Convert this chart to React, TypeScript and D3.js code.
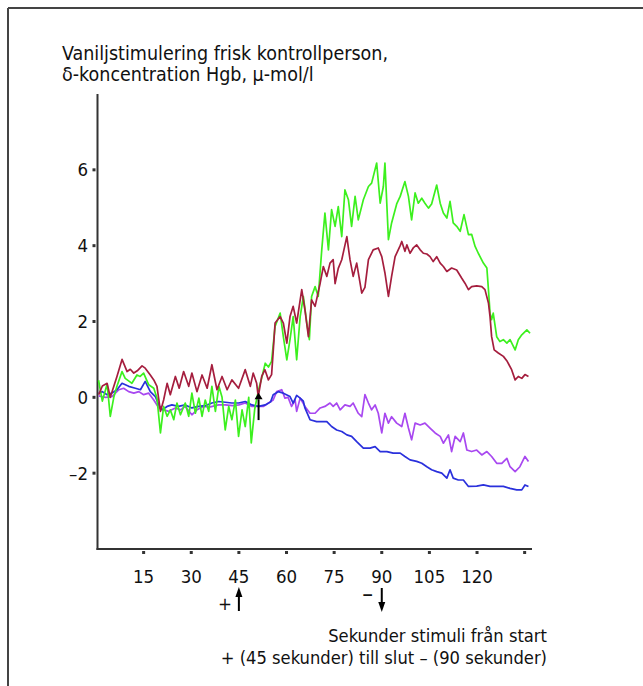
import React from 'react';
import * as d3 from 'd3';

const titleLines = ['Vaniljstimulering frisk kontrollperson,', 'δ-koncentration Hgb, μ-mol/l'];
const footerLines = ['Sekunder stimuli från start', '+ (45 sekunder) till slut – (90 sekunder)'];
const xTickValues = [15, 30, 45, 60, 75, 90, 105, 120, 135];
const xTickLabels = ['15', '30', '45', '60', '75', '90', '105', '120', ''];
const yTickValues = [-2, 0, 2, 4, 6];
const yTickLabels = ['–2', '0', '2', '4', '6'];
const stimStart = 45;
const stimEnd = 90;
const markerTime = 51.2;

const greenSeries: [number, number][] = [
  [0.8, 0.45], [2.0, -0.1], [3.5, 0.35], [4.5, -0.5], [5.6, 0.0], [6.6, 0.29], [8.2, 0.68], [9.2, 0.5],
  [10.8, 0.4], [11.3, 0.37], [12.9, 0.59], [13.9, 0.55], [15.0, 0.64], [16.6, 0.33], [18.2, 0.24],
  [19.2, -0.02], [20.3, -0.94], [21.3, -0.24], [22.4, -0.5], [23.4, -0.33], [24.5, -0.59], [25.5, -0.15],
  [26.6, -0.46], [28.1, -0.15], [29.2, -0.5], [30.2, 0.11], [31.3, -0.42], [32.4, -0.02], [33.4, -0.5],
  [34.4, -0.07], [35.5, -0.37], [36.5, 0.29], [37.6, -0.37], [38.7, 0.29], [39.7, 0.0], [40.7, -0.86],
  [41.8, -0.24], [42.8, -0.59], [43.9, -0.07], [44.9, -1.03], [46.0, -0.33], [47.0, -0.77], [48.1, 0.0],
  [48.9, -1.2], [50.0, -0.3], [51.2, 0.2], [52.3, 0.55], [53.3, 0.9], [54.3, 0.8], [55.3, 0.95],
  [56.4, 1.87], [58.0, 2.22], [59.0, 1.6], [60.1, 0.99], [61.1, 1.52], [62.1, 2.13], [63.2, 0.99],
  [64.3, 2.13], [65.3, 2.66], [66.4, 1.96], [67.2, 1.52], [67.9, 2.66], [69.0, 2.92], [70.0, 2.66],
  [71.1, 3.89], [72.1, 4.86], [73.2, 3.89], [74.2, 4.95], [75.3, 4.51], [76.3, 5.03], [77.4, 4.24],
  [78.4, 5.47], [79.5, 5.21], [80.5, 4.51], [81.6, 5.3], [82.6, 4.68], [84.2, 5.21], [85.8, 5.56],
  [86.8, 5.65], [88.4, 6.18], [89.5, 5.12], [90.5, 5.56], [91.0, 6.18], [92.1, 4.16], [93.1, 4.6],
  [94.7, 5.1], [95.8, 5.3], [97.3, 5.69], [98.4, 5.3], [99.4, 4.68], [100.5, 5.39], [101.5, 5.12],
  [102.6, 5.25], [103.6, 5.12], [104.7, 4.99], [105.7, 5.1], [107.3, 5.6], [108.4, 5.12], [109.4, 4.86],
  [110.5, 4.73], [111.5, 5.17], [112.5, 4.6], [113.6, 4.51], [114.7, 4.38], [115.9, 4.82], [117.3, 4.29],
  [118.3, 4.3], [119.4, 3.98], [120.4, 3.8], [122.0, 3.54], [123.1, 3.41], [123.6, 2.84], [124.1, 2.22],
  [124.6, 2.05], [125.1, 2.22], [126.2, 1.6], [127.2, 1.47], [128.3, 1.52], [129.4, 1.43], [130.4, 1.52],
  [132.0, 1.25], [133.0, 1.52], [134.1, 1.65], [135.7, 1.78], [136.7, 1.69],
];

const redSeries: [number, number][] = [
  [0.85, 0.07], [2.0, 0.3], [3.5, 0.37], [4.5, 0.0], [6.6, 0.55], [8.2, 1.0], [9.8, 0.68], [10.8, 0.74],
  [11.9, 0.64], [13.0, 0.7], [14.5, 0.83], [15.5, 0.77], [17.1, 0.59], [18.2, 0.46], [19.2, 0.29],
  [20.3, -0.37], [21.3, -0.07], [22.4, 0.37], [23.4, 0.07], [25.0, 0.55], [26.2, 0.24], [27.6, 0.68],
  [29.2, 0.29], [30.2, 0.64], [31.8, 0.15], [33.4, 0.59], [35.0, 0.24], [36.5, 0.86], [38.1, 0.2],
  [39.7, 0.55], [41.3, 0.2], [42.8, 0.46], [44.9, 0.24], [47.0, 0.73], [48.6, 0.29], [49.5, 0.64],
  [50.6, 0.37], [51.1, 0.02], [52.2, 0.55], [53.2, 0.73], [54.3, 0.46], [55.3, 0.6], [55.8, 1.2],
  [56.4, 1.96], [58.0, 2.13], [59.0, 1.96], [60.1, 1.43], [61.1, 2.13], [62.1, 2.4], [63.2, 1.96],
  [64.8, 2.84], [65.8, 2.31], [66.9, 1.6], [67.9, 2.57], [69.0, 2.4], [70.6, 3.01], [71.6, 3.45],
  [72.7, 3.19], [73.7, 3.54], [74.7, 3.63], [75.3, 3.0], [76.3, 3.4], [77.4, 3.63], [79.0, 4.24],
  [80.0, 3.63], [81.0, 3.19], [82.1, 3.54], [83.7, 2.75], [84.7, 2.9], [85.8, 3.63], [87.3, 3.89],
  [88.9, 3.94], [90.0, 3.71], [91.0, 3.28], [92.1, 2.66], [93.1, 3.19], [94.2, 3.71], [95.8, 4.0],
  [96.3, 4.11], [97.3, 3.85], [97.9, 4.02], [98.9, 3.8], [100.0, 3.95], [101.0, 4.02], [102.1, 3.89],
  [103.1, 3.8], [104.2, 3.78], [105.2, 3.71], [106.2, 3.58], [107.3, 3.71], [108.4, 3.54], [109.4, 3.45],
  [110.5, 3.32], [112.0, 3.41], [113.6, 3.36], [115.2, 3.14], [116.2, 3.01], [117.3, 2.84], [118.3, 2.92],
  [119.9, 2.94], [121.5, 2.92], [122.5, 2.84], [123.6, 2.49], [124.1, 2.13], [124.6, 1.6], [125.4, 1.25],
  [126.7, 1.17], [128.3, 1.08], [129.5, 0.95], [130.9, 0.73], [132.0, 0.46], [133.0, 0.55], [134.1, 0.5],
  [135.1, 0.6], [136.2, 0.55],
];

const blueSeries: [number, number][] = [
  [0.85, 0.11], [2.0, 0.15], [3.5, 0.07], [5.0, 0.11], [6.6, 0.2], [8.2, 0.37], [10.3, 0.29], [12.4, 0.24],
  [14.0, 0.2], [15.5, 0.42], [17.1, 0.15], [18.7, 0.02], [19.8, -0.2], [20.8, -0.33], [22.4, -0.24],
  [23.9, -0.2], [26.0, -0.24], [28.1, -0.2], [30.2, -0.28], [32.3, -0.24], [34.4, -0.22], [36.5, -0.15],
  [38.6, -0.11], [40.7, -0.13], [42.8, -0.15], [44.9, -0.15], [47.0, -0.11], [49.1, -0.2], [51.2, -0.24],
  [53.3, -0.2], [55.0, -0.12], [55.8, 0.07], [57.4, 0.15], [59.0, 0.11], [61.1, 0.02], [62.1, -0.15],
  [63.2, 0.05], [64.3, -0.02], [65.3, -0.1], [65.8, -0.28], [67.4, -0.59], [69.5, -0.64], [72.7, -0.64],
  [74.2, -0.77], [75.8, -0.86], [77.4, -0.9], [79.0, -0.99], [80.5, -1.03], [82.1, -1.17], [84.2, -1.34],
  [86.3, -1.34], [87.9, -1.3], [89.5, -1.43], [91.6, -1.43], [93.6, -1.47], [95.8, -1.47], [97.3, -1.56],
  [98.9, -1.65], [101.0, -1.69], [102.6, -1.74], [104.2, -1.83], [105.7, -1.91], [107.3, -1.96],
  [108.9, -2.0], [110.5, -2.13], [111.5, -1.91], [112.5, -2.13], [114.1, -2.18], [115.7, -2.18],
  [117.3, -2.35], [119.9, -2.34], [122.0, -2.31], [124.1, -2.35], [126.2, -2.35], [128.3, -2.35],
  [130.4, -2.4], [132.5, -2.44], [134.1, -2.44], [135.1, -2.31], [136.2, -2.35],
];

const purpleSeries: [number, number][] = [
  [0.85, 0.04], [3.0, 0.0], [5.0, 0.02], [7.2, 0.2], [8.7, 0.24], [10.3, 0.15], [11.9, 0.11], [13.5, 0.15],
  [15.0, 0.07], [16.6, 0.11], [18.2, -0.07], [19.8, -0.28], [21.3, -0.33], [22.9, -0.37], [25.0, -0.28],
  [26.6, -0.33], [28.1, -0.24], [30.2, -0.46], [31.8, -0.33], [33.9, -0.24], [36.0, -0.25], [38.6, -0.2],
  [40.7, -0.2], [43.0, -0.22], [45.0, -0.2], [47.0, -0.15], [49.1, -0.24], [50.6, -0.24], [52.7, -0.24],
  [54.3, -0.15], [55.8, -0.07], [56.9, 0.15], [58.5, 0.2], [59.5, -0.02], [60.5, 0.0], [61.6, -0.24],
  [62.7, -0.07], [63.2, -0.37], [64.3, -0.02], [65.8, -0.24], [67.4, -0.42], [69.0, -0.42], [70.6, -0.28],
  [72.1, -0.24], [73.7, -0.15], [74.7, -0.24], [75.8, -0.15], [76.9, -0.33], [78.4, -0.2], [80.0, -0.24],
  [81.0, -0.15], [82.6, -0.42], [83.7, -0.51], [84.7, 0.07], [85.8, -0.15], [86.8, -0.33], [87.9, -0.2],
  [88.9, -0.42], [90.0, -0.94], [91.0, -0.42], [92.1, -0.68], [93.1, -0.51], [94.7, -0.68], [96.3, -0.77],
  [97.3, -0.42], [98.4, -0.81], [99.4, -1.12], [100.5, -0.68], [102.1, -0.73], [103.6, -0.68],
  [105.2, -0.81], [106.8, -0.94], [108.4, -1.03], [109.4, -1.21], [111.0, -0.99], [112.0, -1.43],
  [113.1, -1.03], [114.7, -1.17], [115.7, -0.94], [116.8, -1.39], [118.3, -1.43], [119.9, -1.39],
  [121.5, -1.52], [123.1, -1.43], [124.6, -1.56], [126.2, -1.74], [127.8, -1.74], [129.4, -1.61],
  [130.4, -1.83], [132.0, -1.96], [133.5, -1.83], [135.1, -1.56], [136.2, -1.69],
];

const seriesList = [
  { name: 'lila', data: purpleSeries, color: '#a848f0' },
  { name: 'blå', data: blueSeries, color: '#2a30dc' },
  { name: 'grön', data: greenSeries, color: '#3cf01e' },
  { name: 'röd', data: redSeries, color: '#a51e3e' },
];

const FONT = "'Liberation Sans Narrow', 'DejaVu Sans Condensed', 'Arial Narrow', sans-serif";

export default function App() {
  const W = 643;
  const H = 686;
  const x = d3.scaleLinear().domain([0, 137]).range([96, 531]);
  const y = d3.scaleLinear().domain([-4, 8]).range([549, 94]);
  const axisX = 97.5;
  const axisY = y(-4);
  const line = d3
    .line<[number, number]>()
    .x((d) => x(d[0]))
    .y((d) => y(d[1]));

  const xs = x(stimStart);
  const xe = x(stimEnd);
  const xm = x(markerTime);

  return (
    <svg
      width={W}
      height={H}
      style={{ position: 'absolute', left: 0, top: 0, background: '#fff' }}
      fontFamily={FONT}
    >
      <rect x={0} y={0} width={W} height={H} fill="#fff" />
      {/* frame */}
      <line x1={8} y1={8} x2={W} y2={8} stroke="#444" strokeWidth={2} />
      <line x1={8} y1={8} x2={8} y2={H} stroke="#444" strokeWidth={2} />

      {/* title */}
      {titleLines.map((t, i) => (
        <text key={i} x={62} y={60 + i * 21} fontSize={19.5} fill="#111">
          {t}
        </text>
      ))}

      {/* axes */}
      <line x1={axisX} y1={94} x2={axisX} y2={axisY + 1} stroke="#333" strokeWidth={2} />
      <line x1={axisX - 1} y1={axisY} x2={532} y2={axisY} stroke="#333" strokeWidth={2} />

      {yTickValues.map((v, i) => (
        <g key={'y' + i}>
          <rect x={axisX - 5} y={y(v) - 1.5} width={3} height={3} fill="#333" />
          <text x={88} y={y(v) + 6.5} fontSize={18.5} textAnchor="end" fill="#111">
            {yTickLabels[i]}
          </text>
        </g>
      ))}

      {xTickValues.map((v, i) => (
        <g key={'x' + i}>
          <rect x={x(v) - 1.5} y={axisY + 2} width={3} height={3} fill="#333" />
          <text x={x(v)} y={axisY + 34} fontSize={18.5} textAnchor="middle" fill="#111">
            {xTickLabels[i]}
          </text>
        </g>
      ))}

      {/* series */}
      {seriesList.map((s) => (
        <path
          key={s.name}
          d={line(s.data) || ''}
          fill="none"
          stroke={s.color}
          strokeWidth={1.7}
          strokeLinejoin="round"
        />
      ))}

      {/* in-plot arrow */}
      <line x1={xm} y1={y(-0.6)} x2={xm} y2={y(-0.05)} stroke="#000" strokeWidth={2} />
      <path d={`M${xm - 4},${y(-0.05)} L${xm + 4},${y(-0.05)} L${xm},${y(0.12)} Z`} fill="#000" />

      {/* start arrow */}
      <text x={xs - 14} y={610} fontSize={18.5} textAnchor="middle" fill="#111">+</text>
      <line x1={xs} y1={611} x2={xs} y2={596} stroke="#000" strokeWidth={2} />
      <path d={`M${xs - 3.5},${597} L${xs + 3.5},${597} L${xs},${587} Z`} fill="#000" />

      {/* end arrow */}
      <text x={xe - 14} y={602} fontSize={24} textAnchor="middle" fill="#111">–</text>
      <line x1={xe} y1={588} x2={xe} y2={603} stroke="#000" strokeWidth={2} />
      <path d={`M${xe - 3.5},${602} L${xe + 3.5},${602} L${xe},${612} Z`} fill="#000" />

      {/* footer */}
      {footerLines.map((t, i) => (
        <text key={'f' + i} x={547} y={642 + i * 22} fontSize={18.2} textAnchor="end" fill="#111">
          {t}
        </text>
      ))}
    </svg>
  );
}
